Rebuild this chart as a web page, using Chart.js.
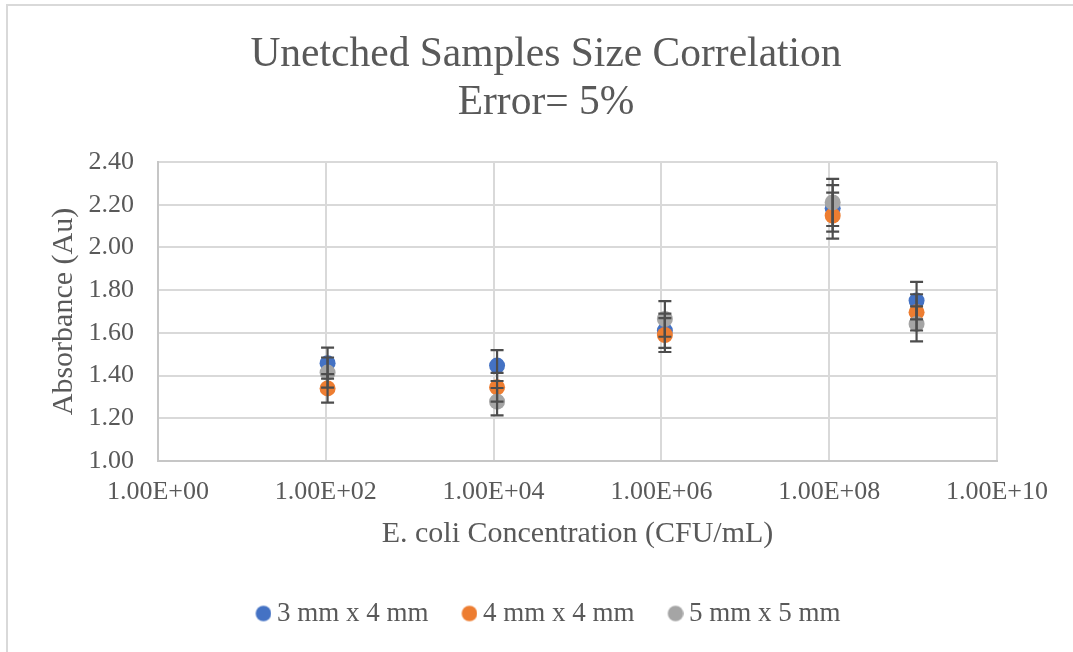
<!DOCTYPE html>
<html>
<head>
<meta charset="utf-8">
<script src="https://cdn.jsdelivr.net/npm/chart.js@4/dist/chart.umd.min.js"></script>
<style>
  html, body { margin: 0; padding: 0; background: #fff; overflow: hidden; }
  #frame { position: absolute; left: 6px; top: 4px; width: 1100px; height: 646px;
    border-left: 2px solid #d9d9d9; border-top: 2px solid #d9d9d9; border-bottom: 1px solid #f0f0f0; }
  #wrap { position: absolute; left: 0; top: 0; width: 1073px; height: 652px; }
</style>
</head>
<body>
<div id="frame"></div>
<div id="wrap"><canvas id="chart"></canvas></div>
<script>
// data
const concentrations = [1.05e2, 1.1e4, 1.1e6, 1.1e8, 1.1e9];
const size3x4 = [1.458, 1.447, 1.610, 2.183, 1.751];
const size4x4 = [1.340, 1.345, 1.590, 2.149, 1.696];
const size5x5 = [1.414, 1.278, 1.665, 2.211, 1.642];
const seriesNames = ['3 mm x 4 mm', '4 mm x 4 mm', '5 mm x 5 mm'];
const seriesColors = ['#4472c4', '#ed7d31', '#a5a5a5'];
const xTicks = [1e0, 1e2, 1e4, 1e6, 1e8, 1e10];
const yTicks = [1.0, 1.2, 1.4, 1.6, 1.8, 2.0, 2.2, 2.4];
const errorPct = 0.05;

const SERIF = "'Liberation Serif', 'Times New Roman', serif";
const TXT = '#595959';

const pts = (ys) => ys.map((y, i) => ({ x: concentrations[i], y }));
const sci = (v) => {
  const e = Math.round(Math.log10(v));
  const m = v / Math.pow(10, e);
  return m.toFixed(2) + 'E' + (e < 0 ? '-' : '+') + String(Math.abs(e)).padStart(2, '0');
};

// legend dot sits close to its text, like Excel: dot drawn on the right of a small canvas
function legendDot(color) {
  const c = document.createElement('canvas');
  c.width = 28; c.height = 18;
  const g = c.getContext('2d');
  g.fillStyle = color;
  g.beginPath(); g.arc(20, 9, 7.8, 0, Math.PI * 2); g.fill();
  return c;
}

// Excel-style ±5% error bars, drawn on top of the markers
const errorBars = {
  id: 'errorBars',
  afterDatasetsDraw(chart) {
    const { ctx, scales: { x, y } } = chart;
    ctx.save();
    ctx.strokeStyle = '#4d4d4d';
    ctx.lineWidth = 2.2;
    chart.data.datasets.forEach((ds, di) => {
      if (!chart.isDatasetVisible(di)) return;
      ds.data.forEach(p => {
        const px = x.getPixelForValue(p.x);
        const top = y.getPixelForValue(p.y * (1 + errorPct));
        const bot = y.getPixelForValue(p.y * (1 - errorPct));
        ctx.beginPath();
        ctx.moveTo(px, top); ctx.lineTo(px, bot);
        ctx.moveTo(px - 6.5, top); ctx.lineTo(px + 6.5, top);
        ctx.moveTo(px - 6.5, bot); ctx.lineTo(px + 6.5, bot);
        ctx.stroke();
      });
    });
    ctx.restore();
  }
};

const mk = (i, ys, order) => ({
  label: seriesNames[i], data: pts(ys), backgroundColor: seriesColors[i], borderColor: seriesColors[i],
  pointRadius: 8, pointHoverRadius: 8, borderWidth: 0, showLine: false, order,
});

new Chart(document.getElementById('chart'), {
  type: 'scatter',
  data: {
    datasets: [
      mk(0, size3x4, 3),
      mk(1, size4x4, 2),
      mk(2, size5x5, 1),
    ],
  },
  plugins: [errorBars],
  options: {
    responsive: true,
    maintainAspectRatio: false,
    animation: false,
    layout: { padding: { left: 19, right: 0, top: 0, bottom: 15 } },
    plugins: {
      title: {
        display: true,
        text: ['Unetched Samples Size Correlation', 'Error= 5%'],
        color: TXT,
        font: { family: SERIF, size: 41.5, weight: 'normal', lineHeight: 1.157 },
        padding: { top: 31, bottom: 35 },
      },
      legend: {
        position: 'bottom',
        labels: {
          usePointStyle: true, boxWidth: 12, boxHeight: 12,
          color: TXT, padding: 29,
          font: { family: SERIF, size: 27 },
          sort: (a, b) => a.datasetIndex - b.datasetIndex,
          generateLabels: (chart) => Chart.defaults.plugins.legend.labels.generateLabels(chart)
            .map(it => ({ ...it, pointStyle: legendDot(seriesColors[it.datasetIndex]) })),
        },
      },
      tooltip: { enabled: false },
    },
    scales: {
      x: {
        type: 'logarithmic', min: 1, max: 1e10,
        afterBuildTicks: (s) => { s.ticks = xTicks.map(v => ({ value: v })); },
        afterFit: (s) => { s.height = 110; },
        ticks: { callback: (v) => sci(v), color: TXT, font: { family: SERIF, size: 26 }, padding: 16, maxRotation: 0, autoSkip: false },
        grid: { color: '#d9d9d9', lineWidth: 2, drawTicks: false },
        border: { color: '#c6c6c6', width: 2 },
        title: { display: true, text: 'E. coli Concentration (CFU/mL)', color: TXT,
          font: { family: SERIF, size: 30 }, padding: { top: 0, bottom: 19 } },
      },
      y: {
        min: 1.0, max: 2.4,
        afterBuildTicks: (s) => { s.ticks = yTicks.map(v => ({ value: v })); },
        afterFit: (s) => { s.width = 139; },
        ticks: { callback: (v) => v.toFixed(2), color: TXT, font: { family: SERIF, size: 26 }, padding: 24 },
        grid: { color: '#d9d9d9', lineWidth: 2, drawTicks: false },
        border: { color: '#c6c6c6', width: 2 },
        title: { display: true, text: 'Absorbance (Au)', color: TXT,
          font: { family: SERIF, size: 30 }, padding: { top: 27, bottom: 0 } },
      },
      // empty right-hand axis that only reserves the margin right of the plot
      yRight: {
        type: 'linear', position: 'right',
        afterFit: (s) => { s.width = 76; },
        ticks: { display: false },
        grid: { display: false, drawOnChartArea: false },
        border: { display: false },
      },
    },
  },
});
</script>
</body>
</html>
